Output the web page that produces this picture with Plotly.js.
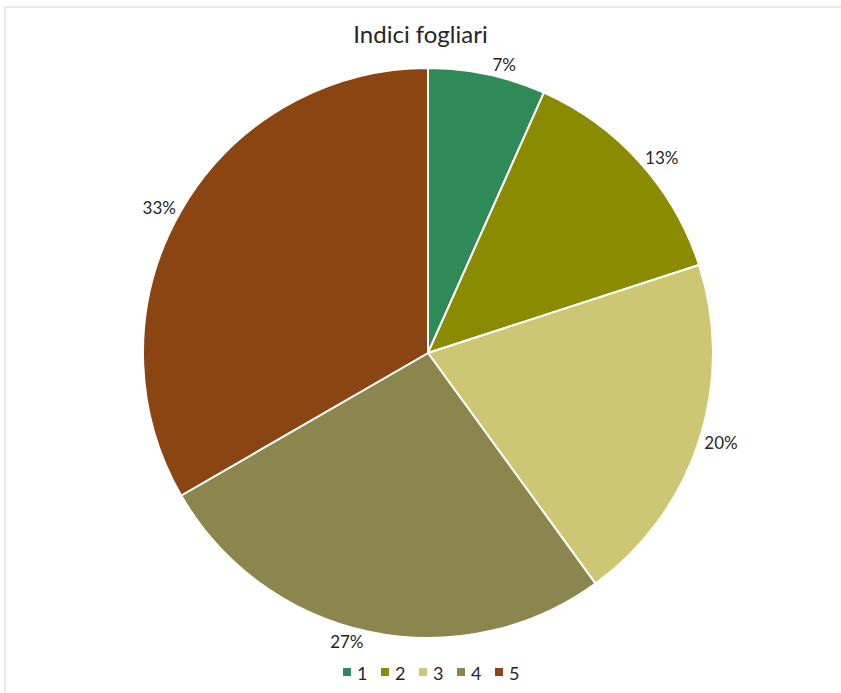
<!DOCTYPE html>
<html>
<head>
<meta charset="utf-8">
<script src="https://cdn.plot.ly/plotly-3.0.1.min.js"></script>
<style>html,body{margin:0;padding:0;background:#fff;}#chart{width:841px;height:693px;}</style>
</head>
<body>
<div id="chart"></div>
<script>
var categories = ['1', '2', '3', '4', '5'];
var values = [1, 2, 3, 4, 5];
var colors = ['#2E8B57', '#8B8B00', '#CDC673', '#8B864E', '#8B4513'];
var chartTitle = 'Indici fogliari';

var W = 841, H = 693;
var cx = 428, cy = 353, R = 285;
var FONT = 'Lato, "Open Sans", sans-serif';
var TXT = '#262626';

var trace = {
  type: 'pie',
  labels: categories,
  values: values,
  sort: false,
  direction: 'clockwise',
  rotation: 0,
  marker: { colors: colors, line: { color: '#ffffff', width: 2 } },
  textposition: 'outside',
  texttemplate: '%{percent:.0%}',
  textfont: { family: FONT, size: 17, color: TXT },
  automargin: false,
  showlegend: false,
  domain: {
    x: [(cx - R) / W, (cx + R) / W],
    y: [(H - cy - R) / H, (H - cy + R) / H]
  },
  hoverinfo: 'label+percent'
};

// Legend built from the category and colour arrays
var legX0 = 347, legStep = 38, legY = 672, sq = 8;
var shapes = [
  { type: 'line', xref: 'paper', yref: 'paper', x0: 5 / W, x1: 1, y0: 1 - 7 / H, y1: 1 - 7 / H, line: { color: '#e3e3e3', width: 1.5 } },
  { type: 'line', xref: 'paper', yref: 'paper', x0: 5 / W, x1: 5 / W, y0: 0, y1: 1 - 7 / H, line: { color: '#e3e3e3', width: 1.5 } }
];
var annotations = [];
categories.forEach(function (c, i) {
  var xc = legX0 + i * legStep;
  shapes.push({
    type: 'rect', xref: 'paper', yref: 'paper',
    x0: (xc - sq / 2) / W, x1: (xc + sq / 2) / W,
    y0: 1 - (legY + sq / 2) / H, y1: 1 - (legY - sq / 2) / H,
    fillcolor: colors[i], line: { width: 0 }
  });
  annotations.push({
    xref: 'paper', yref: 'paper',
    x: (xc + 8) / W, y: 1 - (legY + 1) / H,
    xanchor: 'left', yanchor: 'middle',
    text: c, showarrow: false,
    font: { family: FONT, size: 18, color: TXT }
  });
});

var layout = {
  width: W,
  height: H,
  margin: { l: 0, r: 0, t: 0, b: 0 },
  paper_bgcolor: '#ffffff',
  title: {
    text: chartTitle,
    font: { family: FONT, size: 24, color: TXT },
    x: 0.5, xanchor: 'center',
    y: 1 - 35 / H, yanchor: 'middle'
  },
  showlegend: false,
  shapes: shapes,
  annotations: annotations
};

Plotly.newPlot('chart', [trace], layout, { displayModeBar: false, staticPlot: true });
</script>
</body>
</html>
